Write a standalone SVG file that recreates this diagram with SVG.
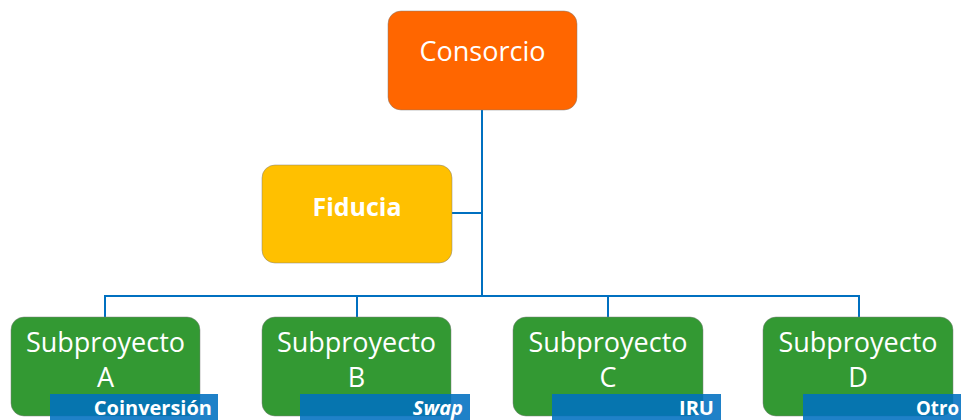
<svg xmlns="http://www.w3.org/2000/svg" width="961" height="420" viewBox="0 0 961 420">
<style>
.box{stroke:#7a7a7a;stroke-width:0.8;stroke-opacity:0.6}
.t{font-family:"Open Sans","Liberation Sans",sans-serif;fill:#ffffff;text-anchor:middle}
.lbl{fill:#0070C0;fill-opacity:0.88}
.lt{font-family:"Open Sans","Liberation Sans",sans-serif;font-weight:bold;font-size:20px;fill:#ffffff;text-anchor:end}
.conn{stroke:#0070C0;stroke-width:2;fill:none}
</style>
<rect width="961" height="420" fill="#ffffff"/>
<g id="connectors">
<path class="conn" d="M482 110 V296"/>
<path class="conn" d="M452 213 H482"/>
<path class="conn" d="M105 317 V296 H859 V317"/>
<path class="conn" d="M357 296 V317"/>
<path class="conn" d="M608 296 V317"/>
</g>
<g id="consorcio">
<rect class="box" x="388" y="11" width="189" height="99" rx="13" fill="#FF6600"/>
<text class="t" x="482.5" y="61" font-size="27">Consorcio</text>
</g>
<g id="fiducia">
<rect class="box" x="262" y="165" width="190" height="98" rx="13" fill="#FFC000"/>
<text class="t" x="357" y="216" font-size="25" font-weight="bold">Fiducia</text>
</g>
<g id="subA">
<rect class="box" x="11" y="317" width="189" height="99" rx="13" fill="#339933"/>
<text class="t" x="105.5" y="352" font-size="27">Subproyecto</text>
<text class="t" x="105.5" y="387" font-size="27">A</text>
<rect class="lbl" x="50" y="394" width="168" height="26"/>
<text class="lt" x="212" y="415">Coinversión</text>
</g>
<g id="subB">
<rect class="box" x="262" y="317" width="189" height="99" rx="13" fill="#339933"/>
<text class="t" x="356.5" y="352" font-size="27">Subproyecto</text>
<text class="t" x="356.5" y="387" font-size="27">B</text>
<rect class="lbl" x="300" y="394" width="170" height="26"/>
<text class="lt" x="463" y="415" font-style="italic">Swap</text>
</g>
<g id="subC">
<rect class="box" x="513" y="317" width="190" height="99" rx="13" fill="#339933"/>
<text class="t" x="608" y="352" font-size="27">Subproyecto</text>
<text class="t" x="608" y="387" font-size="27">C</text>
<rect class="lbl" x="552" y="394" width="169" height="26"/>
<text class="lt" x="714" y="415">IRU</text>
</g>
<g id="subD">
<rect class="box" x="763" y="317" width="190" height="99" rx="13" fill="#339933"/>
<text class="t" x="858" y="352" font-size="27">Subproyecto</text>
<text class="t" x="858" y="387" font-size="27">D</text>
<rect class="lbl" x="803" y="394" width="170" height="26"/>
<text class="lt" x="916" y="415" style="text-anchor:start" textLength="43" lengthAdjust="spacingAndGlyphs">Otro</text>
</g>
</svg>
